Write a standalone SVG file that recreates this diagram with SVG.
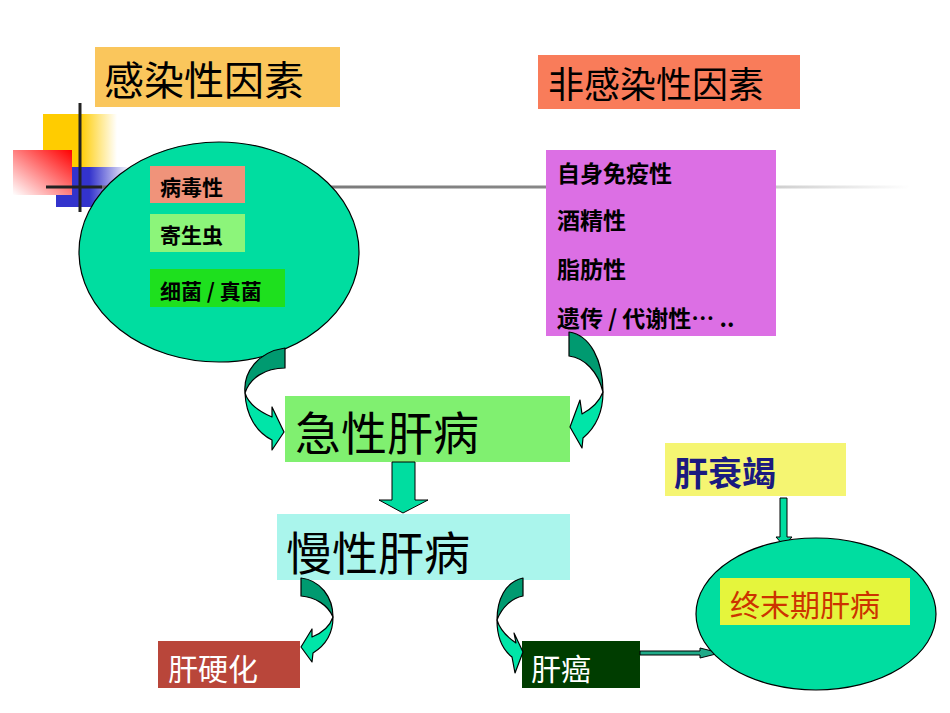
<svg xmlns="http://www.w3.org/2000/svg" width="950" height="713" viewBox="0 0 950 713">
<defs>
<linearGradient id="gYel" x1="0" y1="0" x2="1" y2="0"><stop offset="0.5" stop-color="#FFCC00"/><stop offset="1" stop-color="#FFFFFF"/></linearGradient>
<linearGradient id="gBlu" x1="0" y1="0" x2="1" y2="0"><stop offset="0.45" stop-color="#3333CC"/><stop offset="1" stop-color="#FFFFFF"/></linearGradient>
<linearGradient id="gRed" x1="0" y1="1" x2="1" y2="0"><stop offset="0" stop-color="#FFFFFF"/><stop offset="1" stop-color="#FF0000"/></linearGradient>
<linearGradient id="gLine" gradientUnits="userSpaceOnUse" x1="100" y1="0" x2="910" y2="0"><stop offset="0" stop-color="#6E6E6E"/><stop offset="0.6" stop-color="#8A8A8A"/><stop offset="1" stop-color="#FFFFFF"/></linearGradient>
</defs>
<style>
text{font-family:"Noto Sans CJK SC","Liberation Sans",sans-serif;}
.b{font-weight:bold;}
.ell{fill:#00DDA0;stroke:#000;stroke-width:1.2;}
.dk{fill:#009A70;stroke:#000;stroke-width:1.2;stroke-linejoin:round;}
.lt{fill:#00E5A8;stroke:#000;stroke-width:1.2;stroke-linejoin:round;}
.blk{fill:#00DDA0;stroke:#000;stroke-width:1;}
</style>
<rect width="950" height="713" fill="#FFFFFF"/>
<g id="decor">
<rect x="43" y="114" width="74" height="53" fill="url(#gYel)"/>
<rect x="56" y="167" width="74" height="40" fill="url(#gBlu)"/>
<rect x="13" y="150" width="59" height="45" fill="url(#gRed)"/>
<rect x="100" y="185.5" width="810" height="3" fill="url(#gLine)"/>
<line x1="46" y1="187" x2="102" y2="187" stroke="#222" stroke-width="3"/>
<line x1="80" y1="103" x2="80" y2="212" stroke="#222" stroke-width="3"/>
</g>
<g id="title-infect">
<rect x="95" y="47" width="245" height="60" fill="#FAC65C"/>
<text x="104" y="95" font-size="40">感染性因素</text>
</g>
<g id="title-noninfect">
<rect x="538" y="55" width="262" height="54" fill="#F97C5A"/>
<text x="548" y="98" font-size="36">非感染性因素</text>
</g>
<g id="infect-ellipse">
<ellipse class="ell" cx="219" cy="252" rx="140" ry="110"/>
<rect x="150" y="166" width="95" height="37" fill="#F0937A"/>
<text class="b" x="160" y="195" font-size="21">病毒性</text>
<rect x="150" y="214" width="95" height="38" fill="#8CF57A"/>
<text class="b" x="160" y="243" font-size="21">寄生虫</text>
<rect x="150" y="269" width="135" height="38" fill="#1EE01E"/>
<text class="b" x="160" y="299" font-size="21">细菌 / 真菌</text>
</g>
<g id="noninfect-box">
<rect x="546" y="150" width="230" height="186" fill="#DC6FE4"/>
<text class="b" x="557" y="182" font-size="23">自身免疫性</text>
<text class="b" x="557" y="229" font-size="23">酒精性</text>
<text class="b" x="557" y="278" font-size="23">脂肪性</text>
<text class="b" x="557" y="327" font-size="23">遗传 / 代谢性… ..</text>
</g>
<g id="acute">
<rect x="285" y="396" width="285" height="66" fill="#80F070"/>
<text x="295" y="450" font-size="46">急性肝病</text>
</g>
<g id="chronic">
<rect x="277" y="514" width="293" height="66" fill="#AAF5EC"/>
<text x="286" y="570" font-size="46">慢性肝病</text>
</g>
<g id="cirrhosis">
<rect x="158" y="641" width="142" height="47" fill="#B9463A"/>
<text x="168" y="680" font-size="30" fill="#FFFFFF">肝硬化</text>
</g>
<g id="cancer">
<rect x="522" y="641" width="118" height="47" fill="#003D00"/>
<text x="531" y="680" font-size="30" fill="#FFFFFF">肝癌</text>
</g>
<g id="failure">
<rect x="665" y="443" width="181" height="53" fill="#F5F572"/>
<text class="b" x="674" y="486" font-size="34" fill="#1A1A80">肝衰竭</text>
</g>
<g id="connectors">
<path class="blk" d="M392,462 H415 V500 H428 L403,513 L379,500 H392 Z"/>
<path class="blk" d="M780,498 H787 V537 H792 L784,546 L776,537 H780 Z"/>
<path class="blk" d="M640,651 H700 V648 L720,653 L700,658 V655 H640 Z" style="fill:#1FAA88"/>
<path class="dk" d="M285,348 C258,352 243,372 245,393 C250,378 265,368 285,368 Z"/>
<path class="lt" d="M245,393 C246,415 256,432 272,440 L272,450 L284,432 L272,407 L272,417 C258,411 248,403 245,393 Z"/>
<path class="dk" d="M569,332 C590,335 603,360 603,392 C598,372 585,358 569,356 Z"/>
<path class="lt" d="M603,392 C603,412 595,428 583,438 L582,448 L570,427 L580,400 L582,414 C593,408 600,400 603,392 Z"/>
<path class="dk" d="M301,578 C320,580 333,597 333,617 C328,605 315,597 301,596 Z"/>
<path class="lt" d="M333,617 C333,632 326,645 313,653 L312,662 L301,647 L312,629 L312,637 C322,633 330,626 333,617 Z"/>
<path class="dk" d="M523,578 C505,582 497,600 497,620 C502,607 512,598 523,596 Z"/>
<path class="lt" d="M497,620 C497,637 503,650 512,657 L515,673 L523,652 L514,633 L516,643 C507,637 500,630 497,620 Z"/>
</g>
<g id="endstage">
<ellipse class="ell" cx="816" cy="614" rx="120" ry="76"/>
<rect x="720" y="578" width="190" height="47" fill="#E5F53C"/>
<text x="730" y="616" font-size="30" fill="#CC3300">终末期肝病</text>
</g>
</svg>
